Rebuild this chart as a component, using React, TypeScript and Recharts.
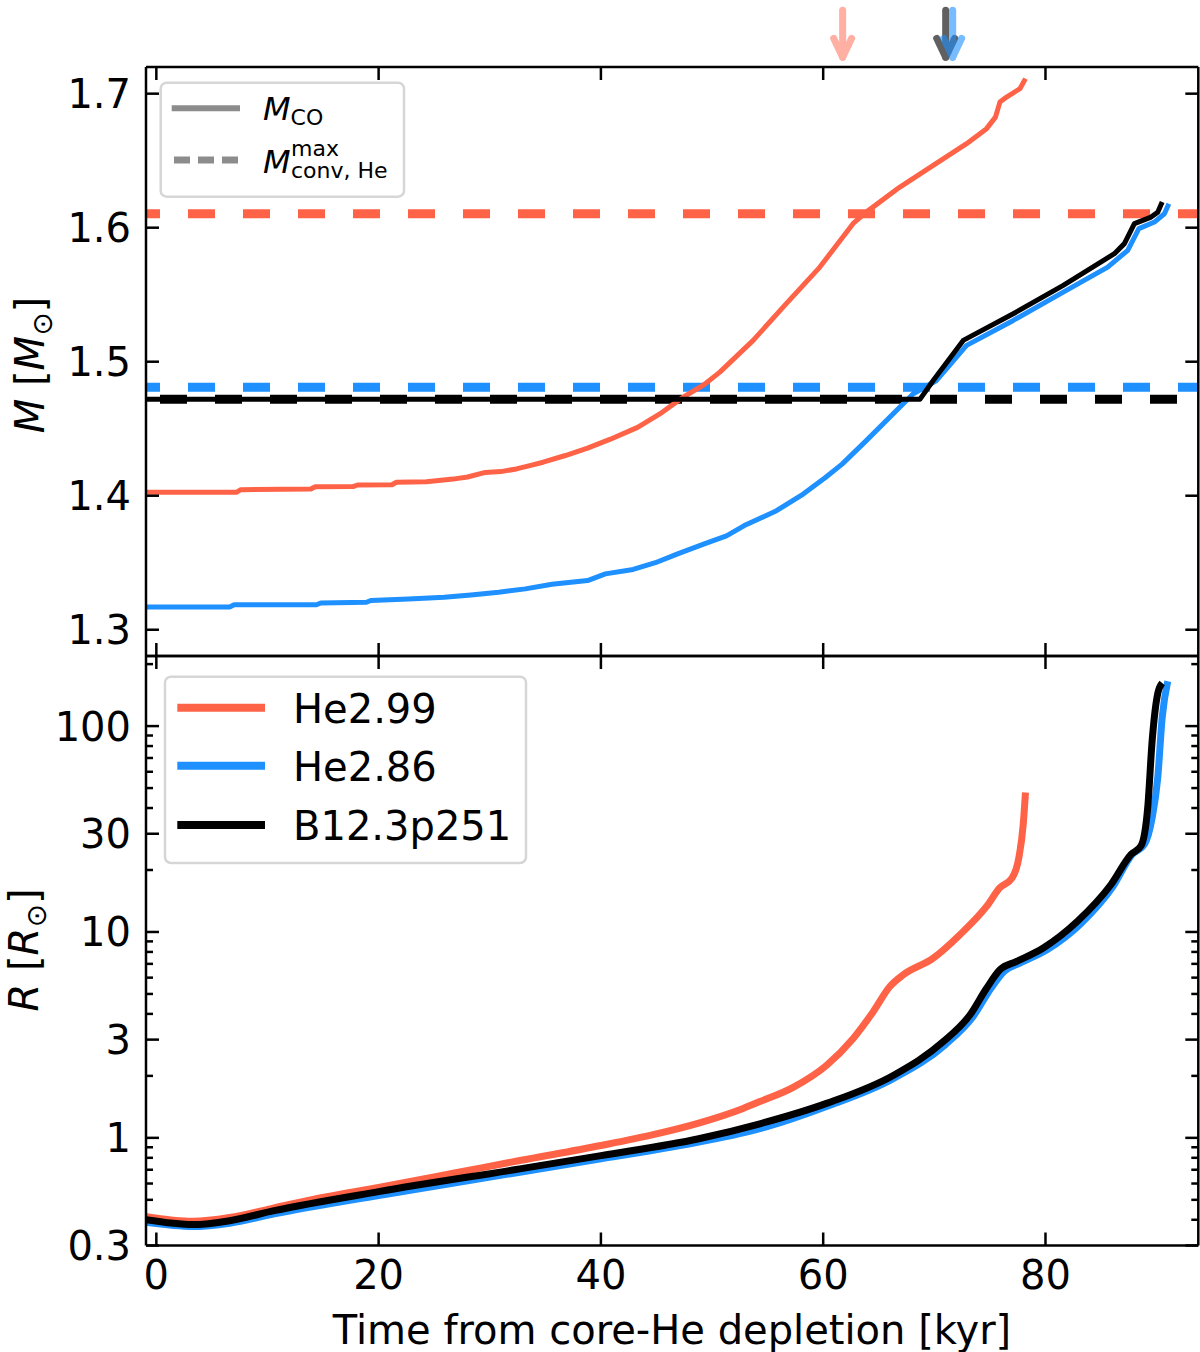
import React from 'react';
import { LineChart, Line, XAxis, YAxis, ReferenceLine } from 'recharts';

const RED = '#FF6347';
const BLUE = '#1E90FF';
const BLACK = '#000000';
const FONT = '"DejaVu Sans", Verdana, sans-serif';

const X_DOMAIN: [number, number] = [-0.93, 93.75];
const M_DOMAIN: [number, number] = [1.2804, 1.7199];
const R_DOMAIN: [number, number] = [0.3, 219];

const xTicks = [0, 20, 40, 60, 80];
const mTicks = [1.3, 1.4, 1.5, 1.6, 1.7];
const rMajorTicks = [0.3, 1, 3, 10, 30, 100];
const rMinorTicks = [0.4, 0.5, 0.6, 0.7, 0.8, 0.9, 2, 4, 5, 6, 7, 8, 9, 20, 40, 50, 60, 70, 80, 90, 200];
const rTickLabels = ['0.3', '1', '3', '10', '30', '100'];

// M_CO vs time  [kyr, Msun]
const mcoHe299: [number, number][] = [
  [-0.93, 1.4025], [7.2, 1.4025], [7.6, 1.4045], [13.9, 1.405], [14.3, 1.4067], [17.7, 1.4068],
  [18.1, 1.408], [21.2, 1.4082], [21.6, 1.41], [24.3, 1.4105], [26.7, 1.4124], [28.0, 1.414],
  [29.6, 1.4174], [31.0, 1.418], [32.4, 1.42], [33.6, 1.4225], [34.8, 1.425], [36.8, 1.43],
  [38.8, 1.4355], [40.8, 1.442], [43.3, 1.451], [45.3, 1.461], [47.3, 1.473], [49.3, 1.483],
  [50.7, 1.4922], [53.7, 1.5159], [56.7, 1.5435], [59.7, 1.5706], [62.7, 1.6032], [63.9, 1.6118],
  [66.9, 1.6303], [69.9, 1.6465], [72.9, 1.6627], [74.7, 1.6739], [75.5, 1.6825], [75.9, 1.6937],
  [76.5, 1.6975], [77.7, 1.7037], [78.2, 1.7112],
];
const mcoHe286: [number, number][] = [
  [-0.93, 1.3169], [6.6, 1.3169], [7.0, 1.3186], [14.4, 1.3186], [14.8, 1.32], [18.9, 1.3205],
  [19.3, 1.3218], [22.7, 1.323], [25.9, 1.3243], [28.3, 1.326], [30.8, 1.328], [33.2, 1.3305],
  [35.6, 1.334], [38.8, 1.3367], [40.4, 1.3417], [42.9, 1.345], [44.9, 1.35], [46.9, 1.3566],
  [49.3, 1.364], [51.3, 1.37], [52.9, 1.3777], [55.8, 1.3888], [58.2, 1.4012], [60.2, 1.4136],
  [61.7, 1.4236], [63.9, 1.4413], [66.3, 1.4612], [68.1, 1.4761], [70.2, 1.486], [72.9, 1.5122],
  [77.1, 1.5308], [81.6, 1.5519], [85.6, 1.5706], [87.4, 1.5831], [88.4, 1.5993], [89.8, 1.6042],
  [90.7, 1.6104], [91.1, 1.6179],
];
const mcoB12: [number, number][] = [
  [-0.93, 1.4719], [68.7, 1.4719], [69.9, 1.486], [72.6, 1.5159], [77.1, 1.5358], [81.6, 1.557],
  [86.2, 1.5806], [87.1, 1.5881], [88.0, 1.603], [89.5, 1.6079], [90.1, 1.6116], [90.5, 1.6191],
];

// max convective He-shell mass
const convHe299 = 1.6104;
const convHe286 = 1.481;
const convB12 = 1.4719;

// radius vs time [kyr, Rsun]
const radHe299: [number, number][] = [
  [-0.93, 0.414], [3.3, 0.393], [6.6, 0.41], [10.6, 0.457], [14.6, 0.509], [20, 0.575],
  [26.7, 0.673], [32.7, 0.776], [40, 0.918], [44.8, 1.04], [48.8, 1.18], [52.8, 1.39],
  [54.3, 1.5], [57.3, 1.76], [60.3, 2.25], [62.7, 3.04], [64.5, 4.1], [66.0, 5.43], [67.2, 6.19],
  [69.9, 7.46], [72.3, 9.7], [74.7, 13.3], [75.9, 16.4], [77.0, 18.3], [77.6, 22.9], [78.0, 33.4],
  [78.2, 47.6],
];
const radHe286: [number, number][] = [
  [-0.93, 0.389], [3.3, 0.371], [6.6, 0.385], [10.6, 0.427], [20, 0.525], [32.7, 0.681],
  [40, 0.791], [48.8, 0.953], [54.8, 1.127], [60.3, 1.42], [66.3, 1.94], [71.0, 2.84],
  [73.5, 3.89], [75.1, 5.33], [76.3, 6.45], [77.7, 7.06], [80.1, 8.17], [83.2, 11.0], [86.1, 16.7],
  [87.8, 23.8], [88.9, 26.6], [89.6, 35.9], [90.1, 56], [90.5, 110], [91.0, 165],
];
const radB12: [number, number][] = [
  [-0.93, 0.4], [3.3, 0.379], [6.6, 0.396], [10.6, 0.443], [20, 0.548], [32.7, 0.707],
  [40, 0.82], [48.8, 0.99], [54.3, 1.17], [60.3, 1.47], [66.3, 2.01], [70.8, 2.93], [73.2, 3.95],
  [74.7, 5.33], [75.9, 6.55], [77.4, 7.19], [79.8, 8.36], [82.9, 11.3], [85.9, 17.0], [87.7, 23.8],
  [88.6, 26.2], [89.2, 40.3], [89.6, 85.2], [90.1, 144], [90.5, 162],
];

// markers (arrows) above the top panel: time of interest per model
const arrowHe299 = 61.75;
const arrowB12 = 71.02;
const arrowHe286 = 71.65;
const arrowTop = 1.7622;
const arrowBottom = 1.7271;

const toPts = (arr: [number, number][]) => arr.map(([x, y]) => ({ x, y }));
const hLine = (y: number) => [
  { x: X_DOMAIN[0], y },
  { x: X_DOMAIN[1], y },
];

const AXIS_LINE = { stroke: '#000', strokeWidth: 2.5 };
const MAJ = 13;
const MIN = 7;
const TW = 2.5;
const FS = 40;

function BottomTick(props: any) {
  const { x, y, payload, showLabel } = props;
  return (
    <g>
      <line x1={x} x2={x} y1={y} y2={y - MAJ} stroke="#000" strokeWidth={TW} />
      {showLabel && (
        <text x={x} y={y + 43} textAnchor="middle" fontSize={FS} fontFamily={FONT} fill="#000">
          {String(payload.value)}
        </text>
      )}
    </g>
  );
}
function TopTick(props: any) {
  const { x, y } = props;
  return <line x1={x} x2={x} y1={y} y2={y + MAJ} stroke="#000" strokeWidth={TW} />;
}
function LeftMTick(props: any) {
  const { x, y, payload } = props;
  return (
    <g>
      <line x1={x} x2={x + MAJ} y1={y} y2={y} stroke="#000" strokeWidth={TW} />
      <text x={x - 15} y={y + 14.5} textAnchor="end" fontSize={FS} fontFamily={FONT} fill="#000">
        {Number(payload.value).toFixed(1)}
      </text>
    </g>
  );
}
function RightMTick(props: any) {
  const { x, y } = props;
  return <line x1={x - MAJ} x2={x} y1={y} y2={y} stroke="#000" strokeWidth={TW} />;
}
function LeftRTick(props: any) {
  const { x, y, payload } = props;
  const idx = rMajorTicks.indexOf(payload.value);
  const len = idx >= 0 ? MAJ : MIN;
  return (
    <g>
      <line x1={x} x2={x + len} y1={y} y2={y} stroke="#000" strokeWidth={TW} />
      {idx >= 0 && (
        <text x={x - 15} y={y + 14.5} textAnchor="end" fontSize={FS} fontFamily={FONT} fill="#000">
          {rTickLabels[idx]}
        </text>
      )}
    </g>
  );
}
function RightRTick(props: any) {
  const { x, y, payload } = props;
  const len = rMajorTicks.indexOf(payload.value) >= 0 ? MAJ : MIN;
  return <line x1={x - len} x2={x} y1={y} y2={y} stroke="#000" strokeWidth={TW} />;
}

function makeArrow(color: string, opacity: number) {
  return (p: any) => {
    const { x1, y1, x2, y2 } = p;
    return (
      <g opacity={opacity}>
        <line x1={x1} y1={y1} x2={x2} y2={y2} stroke={color} strokeWidth={7} strokeLinecap="round" />
        <polyline
          points={`${x2 - 9},${y2 - 19} ${x2},${y2} ${x2 + 9},${y2 - 19}`}
          fill="none"
          stroke={color}
          strokeWidth={7}
          strokeLinecap="round"
          strokeLinejoin="round"
        />
      </g>
    );
  };
}

const rTicksAll = [...rMajorTicks, ...rMinorTicks].sort((a, b) => a - b);

export default function App() {
  return (
    <div style={{ position: 'absolute', left: 0, top: 0, width: 1200, height: 1352, background: '#fff' }}>
      <div style={{ position: 'absolute', left: 0, top: 0 }}>
        <LineChart width={1200} height={700} margin={{ top: 0, right: 0, bottom: 0, left: 0 }}>
          <XAxis xAxisId="b" type="number" dataKey="x" domain={X_DOMAIN} ticks={xTicks} allowDataOverflow
            orientation="bottom" height={44} tickSize={0} tickMargin={0} interval={0} axisLine={AXIS_LINE}
            tickLine={false} tick={(p: any) => <BottomTick {...p} showLabel={false} />} />
          <XAxis xAxisId="t" type="number" dataKey="x" domain={X_DOMAIN} ticks={xTicks} allowDataOverflow
            orientation="top" height={67} tickSize={0} tickMargin={0} interval={0} axisLine={AXIS_LINE}
            tickLine={false} tick={(p: any) => <TopTick {...p} />} />
          <YAxis yAxisId="l" type="number" domain={M_DOMAIN} ticks={mTicks} allowDataOverflow
            orientation="left" width={146} tickSize={0} tickMargin={0} interval={0} axisLine={AXIS_LINE}
            tickLine={false} tick={(p: any) => <LeftMTick {...p} />} />
          <YAxis yAxisId="r" type="number" domain={M_DOMAIN} ticks={mTicks} allowDataOverflow
            orientation="right" width={1.7} tickSize={0} tickMargin={0} interval={0} axisLine={AXIS_LINE}
            tickLine={false} tick={(p: any) => <RightMTick {...p} />} />

          <Line xAxisId="b" yAxisId="l" data={hLine(convHe299)} dataKey="y" type="linear" stroke={RED}
            strokeWidth={9} strokeDasharray="27 28" strokeDashoffset={13} dot={false} isAnimationActive={false} />
          <Line xAxisId="b" yAxisId="l" data={hLine(convHe286)} dataKey="y" type="linear" stroke={BLUE}
            strokeWidth={9} strokeDasharray="27 28" strokeDashoffset={13} dot={false} isAnimationActive={false} />
          <Line xAxisId="b" yAxisId="l" data={hLine(convB12)} dataKey="y" type="linear" stroke={BLACK}
            strokeWidth={9} strokeDasharray="27 28" strokeDashoffset={41} dot={false} isAnimationActive={false} />

          <Line xAxisId="b" yAxisId="l" data={toPts(mcoHe299)} dataKey="y" type="linear" stroke={RED}
            strokeWidth={5} strokeLinejoin="round" dot={false} isAnimationActive={false} />
          <Line xAxisId="b" yAxisId="l" data={toPts(mcoHe286)} dataKey="y" type="linear" stroke={BLUE}
            strokeWidth={5} strokeLinejoin="round" dot={false} isAnimationActive={false} />
          <Line xAxisId="b" yAxisId="l" data={toPts(mcoB12)} dataKey="y" type="linear" stroke={BLACK}
            strokeWidth={5} strokeLinejoin="round" dot={false} isAnimationActive={false} />

          <ReferenceLine xAxisId="b" yAxisId="l" ifOverflow="visible"
            segment={[{ x: arrowHe299, y: arrowTop }, { x: arrowHe299, y: arrowBottom }]}
            shape={makeArrow(RED, 0.5)} />
          <ReferenceLine xAxisId="b" yAxisId="l" ifOverflow="visible"
            segment={[{ x: arrowB12, y: arrowTop }, { x: arrowB12, y: arrowBottom }]}
            shape={makeArrow(BLACK, 0.62)} />
          <ReferenceLine xAxisId="b" yAxisId="l" ifOverflow="visible"
            segment={[{ x: arrowHe286, y: arrowTop }, { x: arrowHe286, y: arrowBottom }]}
            shape={makeArrow(BLUE, 0.6)} />
        </LineChart>
      </div>

      <div style={{ position: 'absolute', left: 0, top: 600 }}>
        <LineChart width={1200} height={752} margin={{ top: 0, right: 0, bottom: 0, left: 0 }}>
          <XAxis xAxisId="b" type="number" dataKey="x" domain={X_DOMAIN} ticks={xTicks} allowDataOverflow
            orientation="bottom" height={106.5} tickSize={0} tickMargin={0} interval={0} axisLine={AXIS_LINE}
            tickLine={false} tick={(p: any) => <BottomTick {...p} showLabel />} />
          <XAxis xAxisId="t" type="number" dataKey="x" domain={X_DOMAIN} ticks={xTicks} allowDataOverflow
            orientation="top" height={56} tickSize={0} tickMargin={0} interval={0} axisLine={AXIS_LINE}
            tickLine={false} tick={(p: any) => <TopTick {...p} />} />
          <YAxis yAxisId="l" type="number" scale="log" domain={R_DOMAIN} ticks={rTicksAll} allowDataOverflow
            orientation="left" width={146} tickSize={0} tickMargin={0} interval={0} axisLine={AXIS_LINE}
            tickLine={false} tick={(p: any) => <LeftRTick {...p} />} />
          <YAxis yAxisId="r" type="number" scale="log" domain={R_DOMAIN} ticks={rTicksAll} allowDataOverflow
            orientation="right" width={1.7} tickSize={0} tickMargin={0} interval={0} axisLine={AXIS_LINE}
            tickLine={false} tick={(p: any) => <RightRTick {...p} />} />

          <Line xAxisId="b" yAxisId="l" data={toPts(radHe299)} dataKey="y" type="monotoneX" stroke={RED}
            strokeWidth={7} strokeLinejoin="round" dot={false} isAnimationActive={false} />
          <Line xAxisId="b" yAxisId="l" data={toPts(radHe286)} dataKey="y" type="monotoneX" stroke={BLUE}
            strokeWidth={7} strokeLinejoin="round" dot={false} isAnimationActive={false} />
          <Line xAxisId="b" yAxisId="l" data={toPts(radB12)} dataKey="y" type="monotoneX" stroke={BLACK}
            strokeWidth={7} strokeLinejoin="round" dot={false} isAnimationActive={false} />
        </LineChart>
      </div>

      <svg width={1200} height={1352} style={{ position: 'absolute', left: 0, top: 0, pointerEvents: 'none' }}
        fontFamily={FONT}>
        {/* y labels */}
        <text x={44} y={365} transform="rotate(-90 44 365)" textAnchor="middle" fontSize={FS} fill="#000">
          <tspan fontStyle="italic">M</tspan>
          <tspan> [</tspan>
          <tspan fontStyle="italic">M</tspan>
          <tspan fontSize={28} dy={8}>⊙</tspan>
          <tspan dy={-8}>]</tspan>
        </text>
        <text x={38} y={950} transform="rotate(-90 38 950)" textAnchor="middle" fontSize={FS} fill="#000">
          <tspan fontStyle="italic">R</tspan>
          <tspan> [</tspan>
          <tspan fontStyle="italic">R</tspan>
          <tspan fontSize={28} dy={8}>⊙</tspan>
          <tspan dy={-8}>]</tspan>
        </text>
        {/* x label */}
        <text x={672} y={1344} textAnchor="middle" fontSize={FS} fill="#000">
          Time from core-He depletion [kyr]
        </text>

        {/* top legend */}
        <rect x={160.7} y={82.7} width={243.3} height={114} rx={6} fill="#fff" fillOpacity={0.8}
          stroke="#d6d6d6" strokeWidth={2.5} />
        <line x1={171.7} x2={240} y1={108.3} y2={108.3} stroke="#8c8c8c" strokeWidth={6} />
        <line x1={174} x2={238} y1={160} y2={160} stroke="#8c8c8c" strokeWidth={7} strokeDasharray="16 8" />
        <text x={263} y={120} fontSize={32} fill="#000">
          <tspan fontStyle="italic">M</tspan>
          <tspan fontSize={22} dy={5}>CO</tspan>
        </text>
        <text x={263} y={173.3} fontSize={32} fill="#000" fontStyle="italic">M</text>
        <text x={291} y={155.5} fontSize={22} fill="#000">max</text>
        <text x={291} y={178} fontSize={22} fill="#000">conv, He</text>

        {/* bottom legend */}
        <rect x={165} y={676.7} width={361} height={186.3} rx={6} fill="#fff" fillOpacity={0.8}
          stroke="#d6d6d6" strokeWidth={2.5} />
        <line x1={177.3} x2={265} y1={707.7} y2={707.7} stroke={RED} strokeWidth={8} />
        <line x1={177.3} x2={265} y1={765.7} y2={765.7} stroke={BLUE} strokeWidth={8} />
        <line x1={177.3} x2={265} y1={825} y2={825} stroke={BLACK} strokeWidth={8} />
        <text x={293} y={722.5} fontSize={FS} fill="#000">He2.99</text>
        <text x={293} y={780.5} fontSize={FS} fill="#000">He2.86</text>
        <text x={293} y={839.5} fontSize={FS} fill="#000">B12.3p251</text>
      </svg>
    </div>
  );
}
